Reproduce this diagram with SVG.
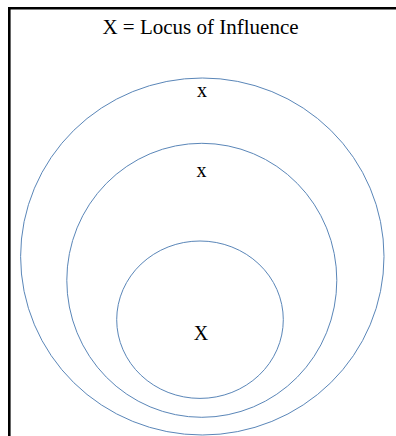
<svg xmlns="http://www.w3.org/2000/svg" width="396" height="436" viewBox="0 0 396 436">
<style>
.ring{fill:none;stroke:#5a86b8;stroke-width:1}
.frame{stroke:#000;stroke-width:2.6;fill:none}
.t{font-family:'Liberation Serif','Times New Roman',serif;font-size:20px;text-anchor:middle;fill:#000}
</style>
<rect width="396" height="436" fill="#fff"/>
<g id="frame">
<path class="frame" d="M9.3,436 V8.3 H396"/>
</g>
<g id="title">
<text class="t" x="200.5" y="34" style="font-size:21px">X = Locus of Influence</text>
</g>
<g id="outer">
<ellipse class="ring" cx="202.3" cy="256.5" rx="181.7" ry="178.5"/>
<text class="t" x="202" y="97">x</text>
</g>
<g id="middle">
<ellipse class="ring" cx="201.8" cy="280.3" rx="135" ry="137"/>
<text class="t" x="201.5" y="177">x</text>
</g>
<g id="inner">
<ellipse class="ring" cx="200" cy="319.7" rx="83.3" ry="78.7"/>
<text class="t" x="201" y="340">X</text>
</g>
<g id="connectors"/>
</svg>
